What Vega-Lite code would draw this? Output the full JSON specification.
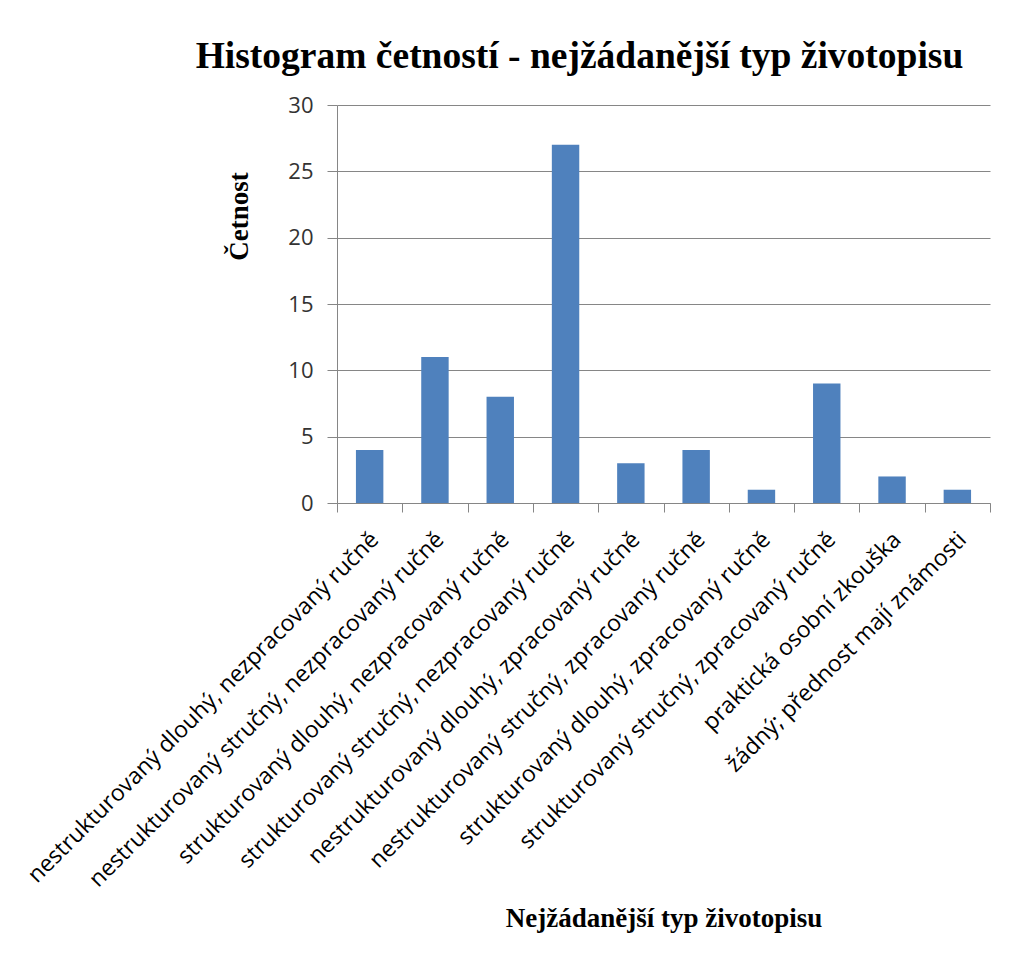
{
  "$schema": "https://vega.github.io/schema/vega-lite/v6.json",
  "autosize": {"type": "none"},
  "padding": {"left": 337, "top": 105, "right": 20, "bottom": 456},
  "width": 653,
  "height": 398,
  "background": "white",
  "title": {
    "text": "Histogram četností - nejžádanější typ životopisu",
    "font": "Liberation Serif",
    "fontSize": 37.5,
    "fontWeight": "bold",
    "color": "#000000",
    "anchor": "middle",
    "dx": -84,
    "offset": 19
  },
  "data": {
    "values": [
      {"typ": "nestrukturovaný dlouhý, nezpracovaný ručně", "cetnost": 4},
      {"typ": "nestrukturovaný stručný, nezpracovaný ručně", "cetnost": 11},
      {"typ": "strukturovaný dlouhý, nezpracovaný ručně", "cetnost": 8},
      {"typ": "strukturovaný stručný, nezpracovaný ručně", "cetnost": 27},
      {"typ": "nestrukturovaný dlouhý, zpracovaný ručně", "cetnost": 3},
      {"typ": "nestrukturovaný stručný, zpracovaný ručně", "cetnost": 4},
      {"typ": "strukturovaný dlouhý, zpracovaný ručně", "cetnost": 1},
      {"typ": "strukturovaný stručný, zpracovaný ručně", "cetnost": 9},
      {"typ": "praktická osobní zkouška", "cetnost": 2},
      {"typ": "žádný; přednost mají známosti", "cetnost": 1}
    ]
  },
  "mark": {"type": "bar", "color": "#4F81BD", "width": {"band": 0.42}},
  "encoding": {
    "x": {
      "field": "typ",
      "type": "nominal",
      "sort": null,
      "scale": {"paddingInner": 0, "paddingOuter": 0},
      "axis": {
        "title": "Nejžádanější typ životopisu",
        "titleFont": "Liberation Serif",
        "titleFontSize": 27,
        "titleFontWeight": "bold",
        "titleColor": "#000000",
        "titleBaseline": "middle",
        "titleY": 415,
        "labelAngle": -45,
        "labelFont": "Open Sans",
        "labelFontSize": 23,
        "labelColor": "#000000",
        "labelPadding": 16,
        "labelOffset": -3,
        "labelLimit": 0,
        "tickBand": "extent",
        "tickSize": 9,
        "tickColor": "#868686",
        "domainColor": "#868686",
        "grid": false
      }
    },
    "y": {
      "field": "cetnost",
      "type": "quantitative",
      "scale": {"domain": [0, 30]},
      "axis": {
        "title": "Četnost",
        "titleFont": "Liberation Serif",
        "titleFontSize": 27,
        "titleFontWeight": "bold",
        "titleColor": "#000000",
        "titleBaseline": "middle",
        "titleX": -98,
        "titleY": 111,
        "values": [0, 5, 10, 15, 20, 25, 30],
        "labelFont": "Open Sans",
        "labelFontSize": 22,
        "labelColor": "#333333",
        "labelPadding": 14,
        "tickSize": 10,
        "tickColor": "#868686",
        "domainColor": "#868686",
        "gridColor": "#868686",
        "gridOpacity": 1
      }
    }
  },
  "config": {"view": {"stroke": null}}
}
